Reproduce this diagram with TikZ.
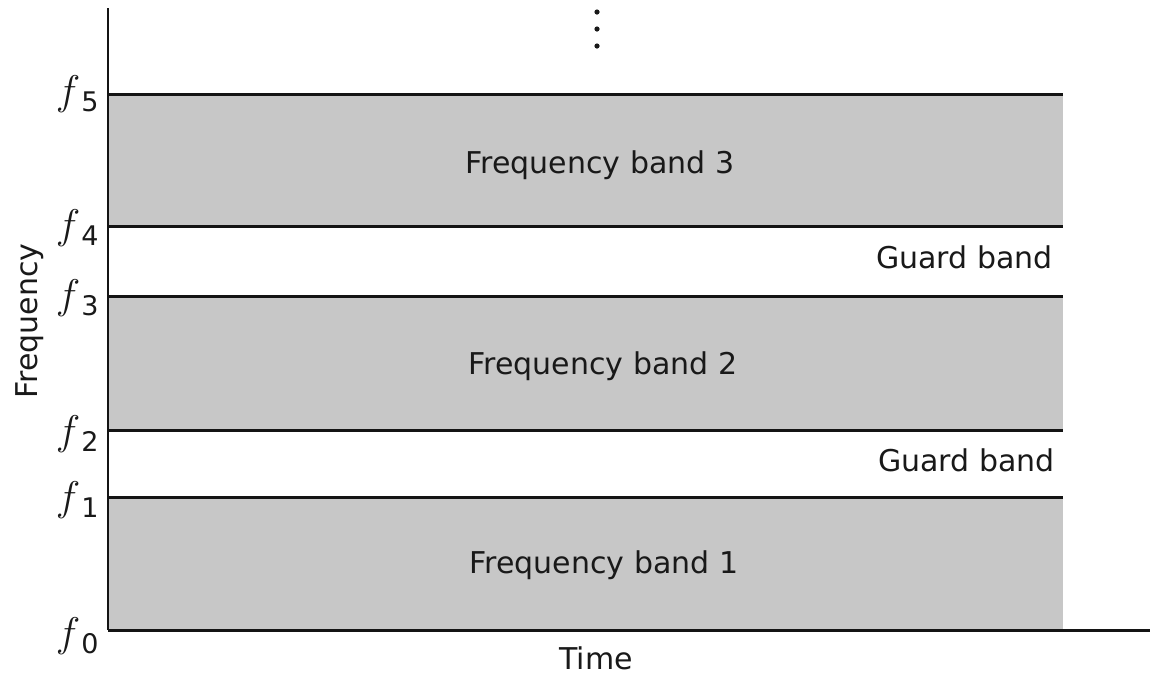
\documentclass[tikz,border=0pt]{standalone}
\usepackage{fontspec}
\newfontfamily\lblfont{DejaVu Sans}
\begin{document}
\begin{tikzpicture}[x=0.5pt,y=-0.5pt,
  bandfill/.style={fill=black!22, draw=none},
  bandline/.style={line width=1.5pt, draw=black!92},
  axisline/.style={line width=1.1pt, draw=black!92},
  lbl/.style={font=\lblfont\fontsize{15}{18}\selectfont, text=black!90, inner sep=0pt},
  flbl/.style={font=\fontsize{20}{24}\selectfont, text=black!90, inner sep=0pt, anchor=east},
  dotmark/.style={circle, fill=black!90, inner sep=0pt, minimum size=2.6pt}]
\useasboundingbox (0,0) rectangle (1150,677);
% axis coordinates
\coordinate (o) at (108,630);
\coordinate (ytop) at (108,8);
\coordinate (xend) at (1150,630);
% band boundary coordinates
\foreach \i/\y in {1/497,2/430,3/296,4/226,5/94}{
  \coordinate (l\i) at (108,\y);
  \coordinate (r\i) at (1063,\y);
}
\coordinate (r0) at (1063,630);
% shaded bands
\fill[bandfill] (l5) rectangle (r4);
\fill[bandfill] (l3) rectangle (r2);
\fill[bandfill] (l1) rectangle (r0);
% boundary lines
\foreach \i in {1,...,5}{ \draw[bandline] (l\i) -- (r\i); }
% axes
\draw[axisline] (ytop) -- (o);
\draw[bandline] (o) -- (xend);
% continuation dots
\node[dotmark] (d1) at (597,12) {};
\node[dotmark] (d2) at (597,29) {};
\node[dotmark] (d3) at (597,46) {};
% frequency labels
\newcommand{\flab}[1]{$f$\kern0.5pt\raisebox{-3.5pt}{\lblfont\fontsize{13.5}{15}\selectfont #1}}
\node[flbl] (f5) at (99,94) {\flab{5}};
\node[flbl] (f4) at (99,228) {\flab{4}};
\node[flbl] (f3) at (99,298) {\flab{3}};
\node[flbl] (f2) at (99,434) {\flab{2}};
\node[flbl] (f1) at (99,500) {\flab{1}};
\node[flbl] (f0) at (99,636) {\flab{0}};
% band labels
\node[lbl, anchor=base] (b3) at (600,173) {Frequency band 3};
\node[lbl, anchor=base] (b2) at (603,374) {Frequency band 2};
\node[lbl, anchor=base] (b1) at (604,573) {Frequency band 1};
\node[lbl, anchor=base east] (g2) at (1053,268) {Guard band};
\node[lbl, anchor=base east] (g1) at (1055,471) {Guard band};
% axis labels
\node[lbl, anchor=base] (tlab) at (596,669) {Time};
\node[lbl, anchor=base, rotate=90] (flab) at (37,321) {Frequency};
\end{tikzpicture}
\end{document}
